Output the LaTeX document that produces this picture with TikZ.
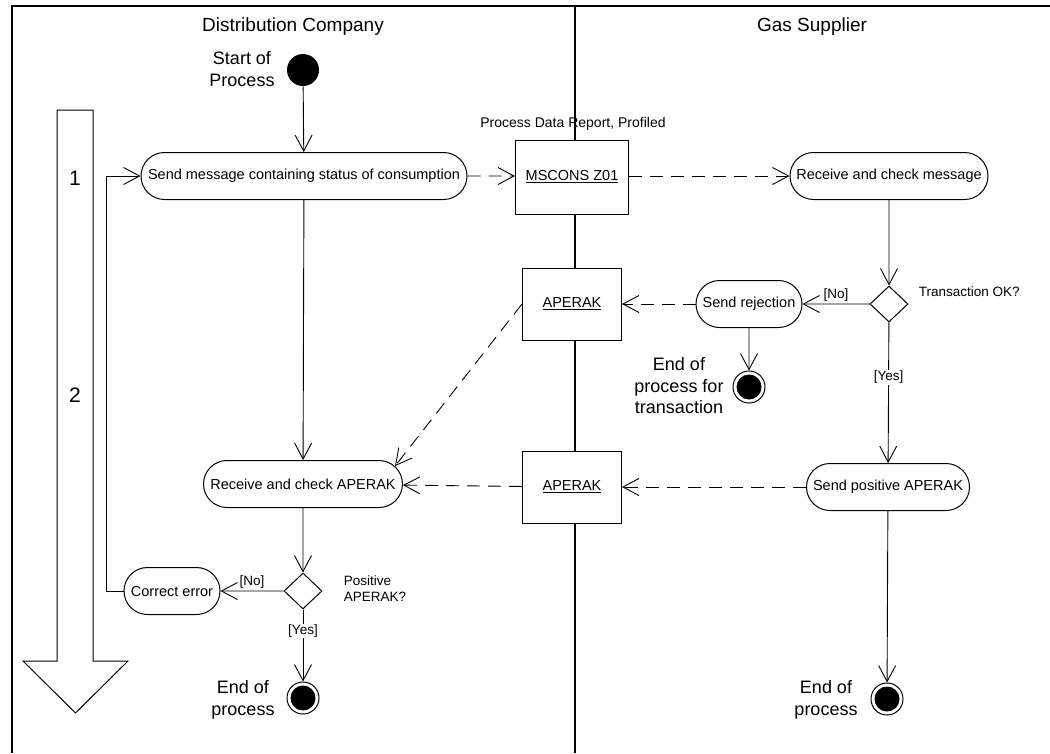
\documentclass[tikz,border=0pt]{standalone}
\usepackage{fontspec}
\setmainfont{Liberation Sans}
\usetikzlibrary{arrows.meta,shapes.geometric,shapes.misc}
\begin{document}
\begin{tikzpicture}[x=1pt,y=-1pt,
  every node/.style={line width=1pt},
  act/.style={draw, fill=white, rounded rectangle, minimum height=47pt, inner xsep=3pt, font=\fontsize{14.5}{17}\selectfont},
  obj/.style={draw, fill=white, rectangle, minimum width=99pt, minimum height=72pt, font=\fontsize{14.5}{17}\selectfont},
  dec/.style={draw, fill=white, diamond, minimum width=38pt, minimum height=36pt, inner sep=0pt},
  startnode/.style={circle, fill=black, minimum size=32pt, inner sep=0pt},
  endnode/.style={circle, draw, fill=white, minimum size=32pt, inner sep=0pt,
     path picture={\fill[black] (path picture bounding box.center) circle (12.5pt);}},
  big/.style={font=\fontsize{18}{22}\selectfont, align=center},
  small/.style={font=\fontsize{13.5}{16}\selectfont},
  lbl/.style={font=\fontsize{13.5}{16}\selectfont, inner sep=1pt},
  flow/.style={-{Straight Barb[length=16pt,width=17pt]}, line width=0.9pt},
  msg/.style={flow, dash pattern=on 13pt off 8pt},
  frame/.style={line width=2pt}
]
\useasboundingbox (0,0) rectangle (1050,753);
% frame and swimlanes
\draw[frame] (12,753) -- (12,6) -- (1050,6);
\draw[frame] (575,6) -- (575,753);
\node[font=\fontsize{19}{22}\selectfont] (laneA) at (293,27) {Distribution Company};
\node[font=\fontsize{19}{22}\selectfont] (laneB) at (812,27) {Gas Supplier};

% big phase arrow
\draw[line width=1pt] (57,110) -- (93,110) -- (93,661) -- (128,661) -- (75.5,713) -- (23,661) -- (57,661) -- cycle;
\node[font=\fontsize{21}{24}\selectfont] (ph1) at (75,178) {1};
\node[font=\fontsize{21}{24}\selectfont] (ph2) at (75,395) {2};

% nodes
\node[startnode] (start) at (303,70) {};
\node[big] (startlbl) at (242,69) {Start of\\Process};

\node[act, minimum width=332pt] (sendmsg) at (304,176) {Send message containing status of consumption};
\node[obj, minimum width=113pt, minimum height=74pt] (mscons) at (572,177) {\underline{MSCONS Z01}};
\node[font=\fontsize{14}{16}\selectfont] (pdr) at (573,124) {Process Data Report, Profiled};
\node[act, minimum width=204pt] (recvmsg) at (889,176) {Receive and check message};

\node[dec] (d1) at (889,304) {};
\node[small, anchor=west] (d1lbl) at (915,292) {Transaction OK?};
\node[act, minimum width=112pt] (sendrej) at (749,304) {Send rejection};
\node[obj] (ap1) at (572,304) {\underline{APERAK}};
\node[endnode] (endT) at (749,387) {};
\node[big, font=\fontsize{18}{21.5}\selectfont] (endTlbl) at (679,386) {End of\\process for\\transaction};

\node[act, minimum width=169pt] (sendpos) at (888,487) {Send positive APERAK};
\node[obj] (ap2) at (572,487) {\underline{APERAK}};
\node[act, minimum width=205pt] (recvap) at (303,484) {Receive and check APERAK};

\node[dec] (d2) at (303,591) {};
\node[small, anchor=west, align=left] (d2lbl) at (340,589) {Positive\\APERAK?};
\node[act, minimum width=102pt] (corr) at (172,591) {Correct error};
\coordinate (loop) at (106,591);

\node[endnode] (endL) at (303,698) {};
\node[big] (endLlbl) at (243,700) {End of\\process};
\node[endnode] (endR) at (887,699) {};
\node[big] (endRlbl) at (826,700) {End of\\process};

% connectors
\draw[flow] (start) -- (sendmsg);
\draw[msg] (sendmsg) -- (mscons.west |- sendmsg.east);
\draw[msg] (mscons.east |- recvmsg.west) -- (recvmsg);
\draw[flow] (recvmsg) -- (d1);
\draw[flow] (d1) -- node[lbl, above, pos=0.5, yshift=1pt] {[No]} (sendrej);
\draw[msg] (sendrej) -- (ap1);
\draw[flow] (sendrej) -- (endT);
\draw[flow] (d1) -- node[lbl, fill=white, pos=0.39] {[Yes]} (sendpos);
\draw[msg] (sendpos) -- (ap2);
\draw[msg] (ap2) -- (recvap);
\draw[msg] (ap1.west) -- (recvap.11);
\draw[flow] (sendmsg) -- (recvap);
\draw[flow] (recvap) -- (d2);
\draw[flow] (d2) -- node[lbl, above, pos=0.5, yshift=1pt] {[No]} (corr);
\draw[flow] (corr) -- (loop) |- (sendmsg);
\draw[flow] (d2) -- node[lbl, fill=white, pos=0.3] {[Yes]} (endL);
\draw[flow] (sendpos) -- (endR);
\end{tikzpicture}
\end{document}
